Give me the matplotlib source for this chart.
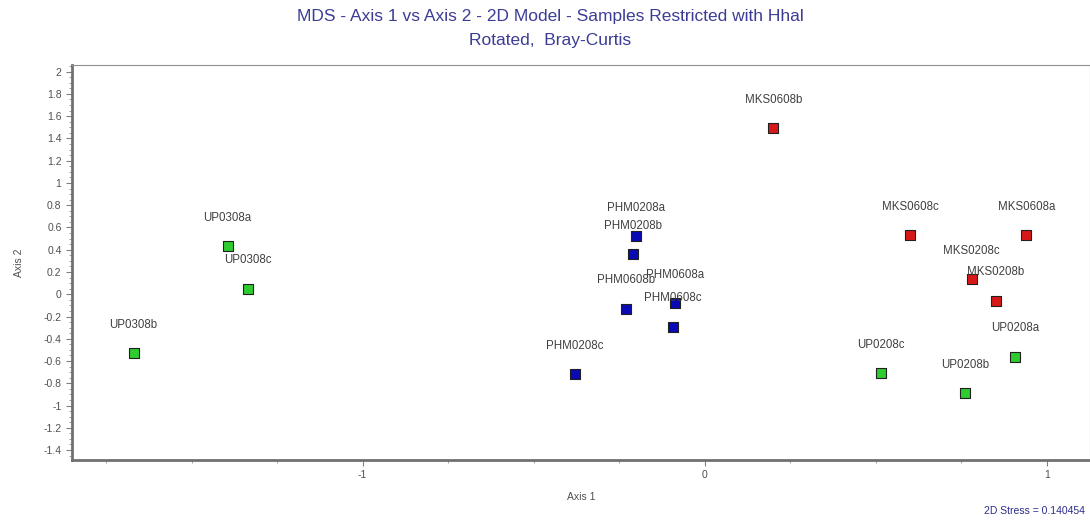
import matplotlib.pyplot as plt
from matplotlib.ticker import MultipleLocator

plt.rcParams['font.family'] = ['Liberation Sans', 'DejaVu Sans']

# muestras y coordenadas MDS (eje 1, eje 2)
verdes = ['UP0308a', 'UP0308c', 'UP0308b', 'UP0208c', 'UP0208b', 'UP0208a']
verdes_x = [-1.395, -1.336, -1.67, 0.516, 0.762, 0.906]
verdes_y = [0.43, 0.05, -0.53, -0.71, -0.89, -0.56]

azules = ['PHM0208a', 'PHM0208b', 'PHM0608b', 'PHM0608a', 'PHM0608c', 'PHM0208c']
azules_x = [-0.20, -0.21, -0.23, -0.088, -0.094, -0.38]
azules_y = [0.52, 0.36, -0.13, -0.08, -0.29, -0.72]

rojos = ['MKS0608b', 'MKS0608c', 'MKS0608a', 'MKS0208c', 'MKS0208b']
rojos_x = [0.20, 0.60, 0.94, 0.78, 0.85]
rojos_y = [1.49, 0.53, 0.53, 0.135, -0.06]

estres = 0.140454

fig = plt.figure(figsize=(10.9, 5.24), dpi=100)
ax = fig.add_axes([0.066, 0.122, 0.934, 0.754])

grupos = [(verdes, verdes_x, verdes_y, '#2ecc2e'),
          (azules, azules_x, azules_y, '#0a0ab4'),
          (rojos, rojos_x, rojos_y, '#d81818')]
for nombres, xs, ys, color in grupos:
    ax.scatter(xs, ys, marker='s', s=55, color=color,
               edgecolors='#202020', linewidths=0.8, zorder=3)
    for n, x, y in zip(nombres, xs, ys):
        ax.annotate(n, (x, y), xytext=(0, 20.5), textcoords='offset points',
                    ha='center', va='center', fontsize=8.3, color='#404040')

ax.set_xlim(-1.85, 1.126)
ax.set_ylim(-1.49, 2.06)
ax.set_xticks([-1, 0, 1])
ax.set_xticklabels(['-1', '0', '1'])
ax.xaxis.set_minor_locator(MultipleLocator(0.25))
ax.set_yticks([2, 1.8, 1.6, 1.4, 1.2, 1, 0.8, 0.6, 0.4, 0.2, 0,
               -0.2, -0.4, -0.6, -0.8, -1, -1.2, -1.4])
ax.set_yticklabels(['2', '1.8', '1.6', '1.4', '1.2', '1', '0.8', '0.6', '0.4',
                    '0.2', '0', '-0.2', '-0.4', '-0.6', '-0.8', '-1', '-1.2', '-1.4'])
ax.yaxis.set_minor_locator(MultipleLocator(0.05))
ax.tick_params(axis='both', which='major', labelsize=7.5, labelcolor='#505050',
               color='#808080', length=4, direction='out')
ax.tick_params(axis='both', which='minor', color='#909090', length=2, direction='out')

for lado in ['top', 'right']:
    ax.spines[lado].set_color('#909090')
    ax.spines[lado].set_linewidth(0.8)
for lado in ['left', 'bottom']:
    ax.spines[lado].set_color('#707070')
    ax.spines[lado].set_linewidth(2)

ax.set_xlabel('Axis 1', fontsize=7.5, color='#505050', labelpad=8)
ax.set_ylabel('Axis 2', fontsize=7.5, color='#505050', labelpad=14)

fig.text(0.505, 0.968, 'MDS - Axis 1 vs Axis 2 - 2D Model - Samples Restricted with Hhal',
         ha='center', va='center', fontsize=12.5, color='#3c3c96')
fig.text(0.505, 0.923, 'Rotated,  Bray-Curtis',
         ha='center', va='center', fontsize=12.5, color='#3c3c96')
fig.text(0.995, 0.015, '2D Stress = ' + str(estres), ha='right', va='bottom',
         fontsize=7.5, color='#2c2c8c')

plt.savefig('out.png', dpi=100)
